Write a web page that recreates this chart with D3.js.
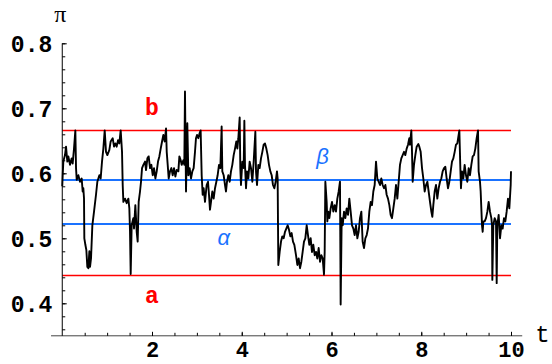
<!DOCTYPE html>
<html>
<head>
<meta charset="utf-8">
<script src="https://cdn.jsdelivr.net/npm/d3@7/dist/d3.min.js"></script>
<style>
  html, body { margin: 0; padding: 0; background: #fff; }
  svg { display: block; }
</style>
</head>
<body>
<svg id="chart" width="552" height="364"></svg>
<script>
// Sample path of the process pi(t) on 0 <= t <= 10
const walkT = [
  0.000, 0.012, 0.024, 0.061, 0.084, 0.113, 0.136, 0.173, 0.210, 0.232, 0.262, 0.292, 0.307, 0.322, 0.359, 0.396,
  0.433, 0.455, 0.470, 0.485, 0.492, 0.515, 0.537, 0.559, 0.582, 0.604, 0.619, 0.641, 0.671, 0.708, 0.752, 0.782,
  0.827, 0.856, 0.886, 0.916, 0.946, 0.975, 1.005, 1.050, 1.079, 1.124, 1.154, 1.183, 1.213, 1.243, 1.272, 1.302,
  1.332, 1.347, 1.362, 1.399, 1.436, 1.473, 1.495, 1.510, 1.525, 1.547, 1.584, 1.599, 1.629, 1.659, 1.681, 1.703,
  1.733, 1.755, 1.778, 1.808, 1.845, 1.867, 1.897, 1.926, 1.956, 1.986, 2.016, 2.045, 2.075, 2.105, 2.134, 2.164,
  2.194, 2.224, 2.253, 2.283, 2.313, 2.328, 2.350, 2.372, 2.402, 2.432, 2.461, 2.491, 2.521, 2.550, 2.587, 2.610,
  2.640, 2.661, 2.698, 2.720, 2.735, 2.758, 2.787, 2.810, 2.839, 2.869, 2.899, 2.928, 2.958, 2.980, 3.003, 3.032,
  3.062, 3.084, 3.107, 3.129, 3.151, 3.181, 3.218, 3.248, 3.270, 3.292, 3.315, 3.344, 3.374, 3.404, 3.434, 3.463,
  3.493, 3.523, 3.552, 3.567, 3.597, 3.627, 3.649, 3.671, 3.701, 3.731, 3.760, 3.790, 3.820, 3.850, 3.879, 3.902,
  3.924, 3.954, 3.968, 3.983, 4.013, 4.043, 4.058, 4.072, 4.095, 4.117, 4.147, 4.176, 4.206, 4.236, 4.266, 4.303,
  4.318, 4.340, 4.370, 4.399, 4.429, 4.459, 4.488, 4.518, 4.548, 4.577, 4.607, 4.637, 4.667, 4.696, 4.726, 4.756,
  4.785, 4.800, 4.815, 4.845, 4.875, 4.904, 4.934, 4.964, 4.993, 5.023, 5.053, 5.083, 5.112, 5.142, 5.172, 5.209,
  5.239, 5.268, 5.298, 5.328, 5.357, 5.387, 5.417, 5.447, 5.476, 5.506, 5.536, 5.565, 5.595, 5.625, 5.655, 5.684,
  5.714, 5.744, 5.773, 5.803, 5.833, 5.848, 5.863, 5.892, 5.907, 5.929, 5.952, 5.981, 6.011, 6.041, 6.071, 6.100,
  6.130, 6.160, 6.189, 6.204, 6.227, 6.249, 6.279, 6.308, 6.338, 6.368, 6.397, 6.427, 6.457, 6.487, 6.516, 6.546,
  6.576, 6.605, 6.635, 6.665, 6.694, 6.724, 6.754, 6.784, 6.813, 6.843, 6.873, 6.902, 6.932, 6.962, 6.992, 7.021,
  7.051, 7.081, 7.110, 7.140, 7.170, 7.200, 7.229, 7.259, 7.289, 7.318, 7.348, 7.378, 7.408, 7.437, 7.467, 7.497,
  7.526, 7.556, 7.586, 7.616, 7.645, 7.675, 7.705, 7.734, 7.749, 7.779, 7.794, 7.809, 7.838, 7.868, 7.898, 7.935,
  7.957, 7.987, 8.017, 8.046, 8.076, 8.106, 8.136, 8.165, 8.195, 8.225, 8.247, 8.269, 8.299, 8.329, 8.358, 8.388,
  8.418, 8.447, 8.477, 8.507, 8.537, 8.566, 8.596, 8.626, 8.656, 8.685, 8.715, 8.745, 8.774, 8.804, 8.849, 8.871,
  8.885, 8.908, 8.938, 8.967, 8.997, 9.027, 9.057, 9.086, 9.116, 9.146, 9.175, 9.205, 9.235, 9.265, 9.279, 9.309,
  9.324, 9.339, 9.354, 9.369, 9.383, 9.413, 9.443, 9.473, 9.502, 9.532, 9.562, 9.577, 9.584, 9.606, 9.636, 9.666,
  9.681, 9.695, 9.725, 9.755, 9.785, 9.814, 9.844, 9.874, 9.903, 9.933, 9.963, 9.993, 10.000
];
const walkPi = [
  0.580, 0.600, 0.618, 0.628, 0.641, 0.618, 0.626, 0.613, 0.623, 0.615, 0.638, 0.666, 0.608, 0.590, 0.597, 0.587,
  0.592, 0.572, 0.577, 0.561, 0.500, 0.490, 0.482, 0.456, 0.454, 0.480, 0.456, 0.469, 0.520, 0.541, 0.567, 0.587,
  0.597, 0.592, 0.618, 0.638, 0.666, 0.633, 0.628, 0.636, 0.649, 0.654, 0.641, 0.646, 0.641, 0.651, 0.646, 0.666,
  0.633, 0.582, 0.556, 0.561, 0.554, 0.561, 0.546, 0.510, 0.445, 0.520, 0.531, 0.515, 0.551, 0.510, 0.495, 0.556,
  0.572, 0.587, 0.608, 0.613, 0.618, 0.605, 0.623, 0.626, 0.608, 0.613, 0.597, 0.608, 0.592, 0.603, 0.618, 0.626,
  0.638, 0.649, 0.659, 0.649, 0.669, 0.633, 0.613, 0.592, 0.603, 0.608, 0.597, 0.608, 0.595, 0.605, 0.603, 0.626,
  0.620, 0.613, 0.620, 0.613, 0.726, 0.572, 0.677, 0.597, 0.608, 0.592, 0.603, 0.608, 0.633, 0.654, 0.659, 0.654,
  0.662, 0.666, 0.597, 0.567, 0.577, 0.556, 0.582, 0.587, 0.567, 0.544, 0.556, 0.572, 0.561, 0.577, 0.587, 0.597,
  0.613, 0.608, 0.672, 0.603, 0.597, 0.582, 0.572, 0.587, 0.597, 0.587, 0.603, 0.613, 0.628, 0.638, 0.649, 0.638,
  0.654, 0.686, 0.608, 0.582, 0.618, 0.608, 0.681, 0.613, 0.577, 0.603, 0.592, 0.618, 0.608, 0.587, 0.618, 0.664,
  0.603, 0.582, 0.613, 0.608, 0.623, 0.633, 0.644, 0.646, 0.638, 0.628, 0.613, 0.603, 0.597, 0.582, 0.577, 0.587,
  0.603, 0.592, 0.459, 0.479, 0.495, 0.503, 0.500, 0.510, 0.515, 0.520, 0.513, 0.503, 0.508, 0.495, 0.490, 0.474,
  0.459, 0.469, 0.454, 0.464, 0.479, 0.495, 0.500, 0.520, 0.505, 0.490, 0.500, 0.479, 0.490, 0.474, 0.479, 0.469,
  0.485, 0.464, 0.474, 0.469, 0.444, 0.479, 0.587, 0.556, 0.526, 0.541, 0.531, 0.546, 0.556, 0.541, 0.551, 0.541,
  0.561, 0.572, 0.587, 0.398, 0.531, 0.520, 0.541, 0.531, 0.546, 0.536, 0.561, 0.541, 0.520, 0.515, 0.505, 0.520,
  0.500, 0.510, 0.531, 0.541, 0.495, 0.485, 0.500, 0.505, 0.515, 0.541, 0.556, 0.551, 0.572, 0.582, 0.618, 0.592,
  0.587, 0.582, 0.592, 0.582, 0.577, 0.582, 0.567, 0.561, 0.551, 0.536, 0.531, 0.546, 0.561, 0.582, 0.561, 0.587,
  0.613, 0.623, 0.628, 0.633, 0.628, 0.638, 0.644, 0.654, 0.644, 0.666, 0.633, 0.587, 0.613, 0.628, 0.641, 0.645,
  0.641, 0.633, 0.608, 0.592, 0.572, 0.582, 0.587, 0.572, 0.556, 0.541, 0.533, 0.551, 0.572, 0.582, 0.561, 0.577,
  0.587, 0.592, 0.603, 0.608, 0.610, 0.592, 0.577, 0.587, 0.603, 0.618, 0.623, 0.633, 0.644, 0.646, 0.666, 0.608,
  0.577, 0.603, 0.592, 0.613, 0.597, 0.587, 0.608, 0.597, 0.613, 0.626, 0.628, 0.638, 0.654, 0.666, 0.603, 0.587,
  0.572, 0.546, 0.520, 0.510, 0.526, 0.526, 0.531, 0.541, 0.556, 0.541, 0.531, 0.520, 0.436, 0.520, 0.531, 0.526,
  0.431, 0.520, 0.536, 0.500, 0.520, 0.515, 0.531, 0.526, 0.541, 0.561, 0.546, 0.582, 0.603
];

// Boundary levels: outer barriers a, b and inner thresholds alpha, beta
const outerNames = ["a", "b"];
const outerLevels = [0.443, 0.667];
const innerNames = ["\u03b1", "\u03b2"];
const innerLevels = [0.522, 0.589];

// Axis ticks
const xTickLabels = [2, 4, 6, 8, 10];
const xMinorTicks = d3.range(1, 21).map(i => i * 0.5);
const yTickLabels = [0.4, 0.5, 0.6, 0.7, 0.8];
const yMinorTicks = d3.range(18, 41).map(i => i * 0.02);

const RED = "#ff0000";
const BLUE = "#1a72ff";

const svg = d3.select("#chart");

const x = d3.scaleLinear().domain([0, 10]).range([62.25, 511]);
const y = d3.scaleLinear().domain([0.4, 0.8]).range([303.3, 43.3]);
const yBase = 0.35;

// Reference lines, snapped to whole pixels so the colours stay solid
svg.append("g").selectAll("line").data(outerLevels).join("line")
  .attr("x1", x(0)).attr("x2", x(10))
  .attr("y1", d => Math.round(y(d)) + 0.5).attr("y2", d => Math.round(y(d)) + 0.5)
  .attr("stroke", RED).attr("stroke-width", 1.4);

svg.append("g").selectAll("line").data(innerLevels).join("line")
  .attr("x1", x(0)).attr("x2", x(10))
  .attr("y1", d => Math.round(y(d))).attr("y2", d => Math.round(y(d)))
  .attr("stroke", BLUE).attr("stroke-width", 2);

// Sample path
const pathData = walkT.map((t, i) => [t, walkPi[i]]);
svg.append("path")
  .datum(pathData)
  .attr("fill", "none")
  .attr("stroke", "#000")
  .attr("stroke-width", 1.9)
  .attr("stroke-linejoin", "round")
  .attr("d", d3.line().x(d => x(d[0])).y(d => y(d[1])));

// Axes
const axisG = svg.append("g");
axisG.append("line")
  .attr("x1", x(-0.25)).attr("x2", x(10.25))
  .attr("y1", y(yBase)).attr("y2", y(yBase))
  .attr("stroke", "#444").attr("stroke-width", 1);
axisG.append("line")
  .attr("x1", x(0)).attr("x2", x(0))
  .attr("y1", y(yBase)).attr("y2", y(0.8))
  .attr("stroke", "#000").attr("stroke-width", 1);

// y ticks (inward, to the right)
const yMinor = svg.append("g").attr("transform", `translate(${x(0)},0)`)
  .call(d3.axisLeft(y).tickValues(yMinorTicks).tickSize(-3).tickFormat(""));
const yMajor = svg.append("g").attr("transform", `translate(${x(0)},0)`)
  .call(d3.axisLeft(y).tickValues(yTickLabels).tickSize(-4.5).tickPadding(10).tickFormat(d3.format(".1f")));
// x ticks (inward, upward)
const xMinor = svg.append("g").attr("transform", `translate(0,${y(yBase)})`)
  .call(d3.axisBottom(x).tickValues(xMinorTicks).tickSize(-3).tickFormat(""));
const xMajor = svg.append("g").attr("transform", `translate(0,${y(yBase)})`)
  .call(d3.axisBottom(x).tickValues(xTickLabels).tickSize(-4).tickPadding(0).tickFormat(d3.format("d")));

[yMinor, yMajor, xMinor, xMajor].forEach(g => {
  g.select(".domain").remove();
  g.selectAll(".tick line").attr("stroke", "#000");
});
[yMajor, xMajor].forEach(g => {
  g.selectAll(".tick text")
    .attr("fill", "#000")
    .style("font-family", "'Liberation Mono', 'Courier New', monospace")
    .style("font-weight", "bold")
    .style("font-size", "23px");
});
yMajor.selectAll(".tick text").attr("dy", "0.36em");
xMajor.selectAll(".tick text").attr("y", 21.5).attr("dy", 0).style("font-size", "22px");

// Axis titles
svg.append("text").attr("x", x(10.25) + 13).attr("y", y(yBase) + 6)
  .style("font-family", "'Liberation Mono', monospace").style("font-size", "24px")
  .text("t");
svg.append("text").attr("x", x(0) - 8).attr("y", 22)
  .style("font-family", "'Liberation Serif', serif").style("font-size", "24px")
  .text("\u03c0");

// Level labels
const monoRed = sel => sel.style("font-family", "'Liberation Mono', monospace")
  .style("font-weight", "bold").style("font-size", "23px")
  .attr("fill", RED).attr("text-anchor", "middle");
svg.append("text").attr("x", x(2)).attr("y", y(outerLevels[1]) - 15).call(monoRed).text(outerNames[1]);
svg.append("text").attr("x", x(2)).attr("y", y(outerLevels[0]) + 28).call(monoRed).text(outerNames[0]);

const italBlue = sel => sel.style("font-family", "'Liberation Sans', sans-serif")
  .style("font-style", "italic").style("font-size", "22px")
  .attr("fill", BLUE).attr("text-anchor", "middle");
svg.append("text").attr("x", x(5.8)).attr("y", y(innerLevels[1]) - 16).call(italBlue).text(innerNames[1]);
svg.append("text").attr("x", x(3.6)).attr("y", y(innerLevels[0]) + 21).call(italBlue).text(innerNames[0]);
</script>
</body>
</html>
